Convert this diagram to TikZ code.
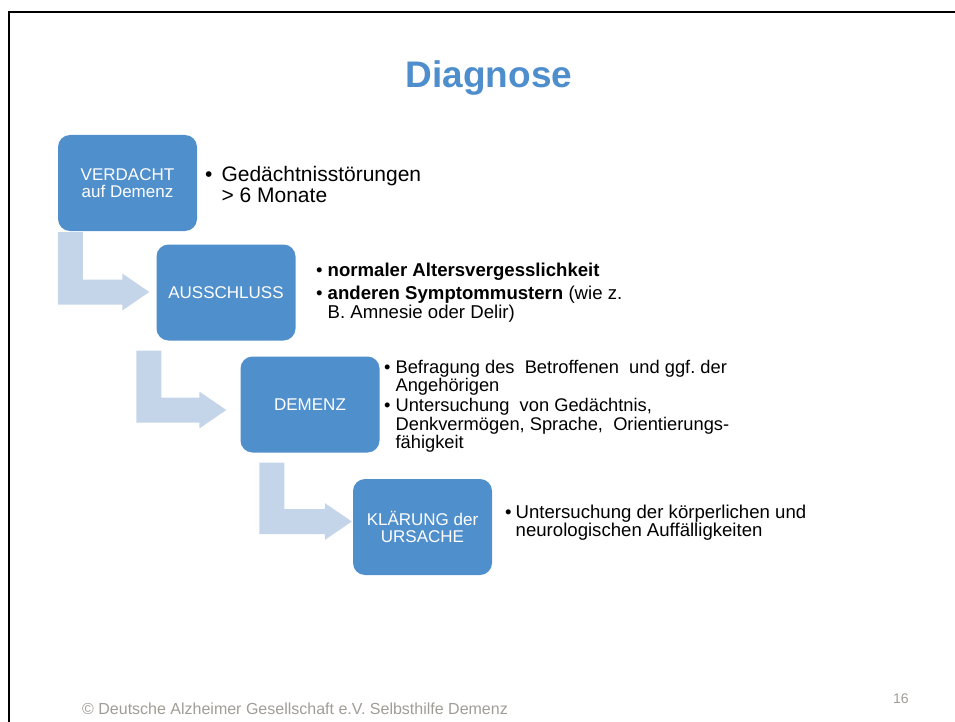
\documentclass[tikz,border=0pt]{standalone}
\usepackage{fontspec}
\setmainfont{Liberation Sans}
\usepackage{xcolor}
\usetikzlibrary{calc, backgrounds}

\definecolor{boxblue}{RGB}{79,143,204}
\definecolor{arrowblue}{RGB}{196,213,234}
\definecolor{titleblue}{RGB}{78,142,205}
\definecolor{footgray}{RGB}{160,156,150}

% bent arrow: #1 = top left of the vertical bar, #2 = tip
\newcommand{\bentarrow}[2]{%
  \fill[flowarrow] let \p1=(#1), \p2=(#2) in
    (\x1,\y1) -- (\x1+25pt,\y1) -- (\x1+25pt,\y2+12.5pt)
    -- (\x2-27pt,\y2+12.5pt) -- (\x2-27pt,\y2+18.5pt) -- (\x2,\y2)
    -- (\x2-27pt,\y2-18.5pt) -- (\x2-27pt,\y2-12.5pt)
    -- (\x1,\y2-12.5pt) -- cycle;}

\frenchspacing

\begin{document}
\begin{tikzpicture}[x=1pt, y=-1pt,
  stepbox/.style={rectangle, rounded corners=12pt, fill=boxblue, text=white,
                  minimum width=139pt, minimum height=96pt, inner sep=2pt,
                  align=center, font=\fontsize{17}{17.5}\selectfont},
  notes/.style={anchor=base west, inner sep=0pt, align=left},
  flowarrow/.style={fill=arrowblue},
]
  \useasboundingbox (0,0) rectangle (955,722);

  % Slide frame
  \draw[line width=2pt] (955,12) -- (9,12) -- (9,722);

  % Title
  \node[anchor=base, text=titleblue, font=\fontsize{37}{37}\selectfont\bfseries]
       at (489,88) (title) {Diagnose};

  % Steps
  \node[stepbox] at (127.5,183)  (b1) {VERDACHT\\auf Demenz};
  \node[stepbox] at (226,292.5)  (b2) {AUSSCHLUSS};
  \node[stepbox] at (310,404.5)  (b3) {DEMENZ};
  \node[stepbox] at (422.5,527)  (b4) {KLÄRUNG der\\URSACHE};

  % Notes
  \node[notes, font=\fontsize{21}{18}\selectfont] at (205,182) (n1)
    {\begin{tabular}[t]{@{}l@{\hspace{9pt}}l@{}}
      •&Gedächtnisstörungen\\
       &> 6 Monate
     \end{tabular}};
  \node[notes, font=\fontsize{18.6}{18}\selectfont] at (316,276) (n2)
    {\begin{tabular}[t]{@{}l@{\hspace{5pt}}l@{}}
      •&\textbf{normaler Altersvergesslichkeit}\\[5pt]
      •&\textbf{anderen Symptommustern} (wie z.\\
       &B. Amnesie oder Delir)
     \end{tabular}};
  \node[notes, font=\fontsize{18.3}{17.5}\selectfont] at (384,373) (n3)
    {\begin{tabular}[t]{@{}l@{\hspace{5pt}}l@{}}
      •&Befragung des\ \ Betroffenen\ \ und ggf. der\\
       &Angehörigen\\[1.5pt]
      •&Untersuchung\ \ von Gedächtnis,\\
       &Denkvermögen, Sprache,\ \ Orientierungs-\\
       &fähigkeit
     \end{tabular}};
  \node[notes, font=\fontsize{18.6}{18}\selectfont] at (505,518) (n4)
    {\begin{tabular}[t]{@{}l@{\hspace{4pt}}l@{}}
      •&Untersuchung der körperlichen und\\
       &neurologischen Auffälligkeiten
     \end{tabular}};

  % Bent arrows between the steps
  \coordinate (a1s) at ($(b1.south west)+(0,1)$);
  \coordinate (a1t) at ($(b2.west)+(-7,-0.5)$);
  \coordinate (a2s) at ($(b2.south west)+(-20,10)$);
  \coordinate (a2t) at ($(b3.west)+(-14,5.5)$);
  \coordinate (a3s) at ($(b3.south west)+(19,10)$);
  \coordinate (a3t) at ($(b4.west)+(-1,-5.5)$);
  \begin{scope}[on background layer]
    \bentarrow{a1s}{a1t}
    \bentarrow{a2s}{a2t}
    \bentarrow{a3s}{a3t}
  \end{scope}

  % Footer
  \node[anchor=base west, inner sep=0pt, text=footgray,
        font=\fontsize{16}{16}\selectfont] at (82,714) (foot)
    {© Deutsche Alzheimer Gesellschaft e.V. Selbsthilfe Demenz};
  \node[anchor=base west, inner sep=0pt, text=footgray,
        font=\fontsize{14}{14}\selectfont] at (893,703) (page) {16};
\end{tikzpicture}
\end{document}
